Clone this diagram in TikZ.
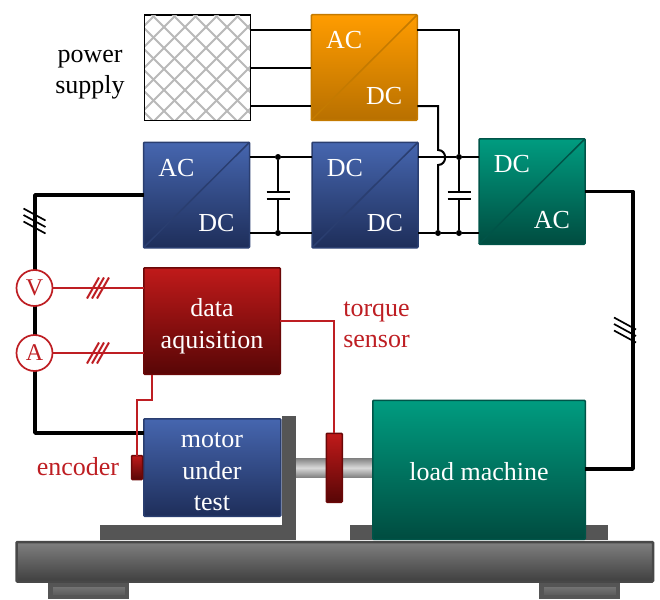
\documentclass[tikz,border=0pt]{standalone}
\usepackage{fontspec}
\setmainfont{Liberation Serif}
\usepackage{tikz}
\usetikzlibrary{positioning}
\definecolor{bluetop}{RGB}{70,102,175}
\definecolor{bluebot}{RGB}{30,46,90}
\definecolor{blueedge}{RGB}{42,62,112}
\definecolor{orangetop}{RGB}{255,156,0}
\definecolor{orangebot}{RGB}{184,112,0}
\definecolor{orangeedge}{RGB}{196,122,0}
\definecolor{greentop}{RGB}{0,156,128}
\definecolor{greenbot}{RGB}{0,76,64}
\definecolor{greenedge}{RGB}{0,84,72}
\definecolor{redtop}{RGB}{192,26,26}
\definecolor{redbot}{RGB}{88,6,6}
\definecolor{rededge}{RGB}{106,8,8}
\definecolor{sigred}{RGB}{190,30,35}
\definecolor{steel}{RGB}{85,85,85}
\begin{document}
\begin{tikzpicture}[x=1pt,y=-1pt,
    box/.style={rectangle,draw,line width=1.5pt,rounded corners=1pt,inner sep=0pt,outer sep=0pt},
    bluebox/.style={box,draw=blueedge,top color=bluetop,bottom color=bluebot},
    orangebox/.style={box,draw=orangeedge,top color=orangetop,bottom color=orangebot},
    greenbox/.style={box,draw=greenedge,top color=greentop,bottom color=greenbot},
    redbox/.style={box,draw=rededge,top color=redtop,bottom color=redbot},
    conv/.style={minimum width=106pt,minimum height=105.5pt},
    convtext/.style={text=white,inner sep=0pt,align=center,font=\fontsize{26}{31.5}\selectfont},
    steelbar/.style={rectangle,fill=steel,inner sep=0pt,outer sep=0pt},
    foot/.style={rectangle,draw=steel,line width=4.5pt,top color=gray!95!black,bottom color=steel,inner sep=0pt,minimum width=76.5pt,minimum height=12pt},
    wire/.style={line width=2pt,black},
    power wire/.style={line width=3.5pt,black,line join=round},
    signal wire/.style={line width=2pt,sigred},
    meter/.style={circle,draw=sigred,fill=white,line width=1.7pt,inner sep=0pt,minimum size=36pt,text=sigred,font=\fontsize{24}{30}\selectfont},
    dot/.style={circle,fill=black,inner sep=0pt,minimum size=6pt},
    redtext/.style={text=sigred,align=center,inner sep=0pt,font=\fontsize{26}{31.5}\selectfont}]

      \useasboundingbox (0,0) rectangle (660,599);

      \node [draw,line width=1pt,fill=white,inner sep=0pt,minimum width=105.5pt,minimum height=105pt] (supply) at (197.25,67.75) {};
      \begin{scope}
        \clip (supply.south west) rectangle (supply.north east);
        \foreach \k in {-6, ..., 6} {
          \draw[line width=1.8pt, gray!55] ({185+21*\k-130},{90-130}) -- ({185+21*\k+130},{90+130});
          \draw[line width=1.8pt, gray!55] ({185+21*\k-130},{90+130}) -- ({185+21*\k+130},{90-130});
        }
      \end{scope}
      \draw[line width=1pt] (supply.south west) rectangle (supply.north east);
      \node [align=center,inner sep=0pt,font=\fontsize{26}{31}\selectfont] (supplytext) at (90,74.5) {power\\supply};

      % converters
      \foreach \n/\cx/\cy/\sty/\edge/\ta/\tb in {orange/364.25/67.5/orangebox/orangeedge/AC/DC, acdc/196.5/195/bluebox/blueedge/AC/DC, dcdc/365/195/bluebox/blueedge/DC/DC, dcac/532/191.5/greenbox/greenedge/DC/AC} {
        \node [\sty, conv] (\n) at (\cx,\cy) {};
        \draw[line width=1.5pt, \edge] (\n.south west) -- (\n.north east);
        \node [convtext] (\n a) at ([shift={(-20,-27)}]\n.center) {\ta};
        \node [convtext] (\n b) at ([shift={(20,28.5)}]\n.center) {\tb};
      }

      \foreach \y in {30, 68, 106}
        \draw[wire] (supply.east |- 0,\y) -- (orange.west |- 0,\y);

      \node [dot] (dota) at (278,157) {};
      \node [dot] (dotb) at (278,233) {};
      \node [dot] (dotc) at (459,157) {};
      \node [dot] (dotd) at (459,233) {};
      \node [dot] (dote) at (438,233) {};

      \draw[wire] (acdc.east |- dota) -- (dota) -- (dcdc.west |- dota);
      \draw[wire] (acdc.east |- dotb) -- (dotb) -- (dcdc.west |- dotb);
      \draw[wire] (dcdc.east |- dotc) -- (dotc) -- (dcac.west |- dotc);
      \draw[wire] (dcdc.east |- dotd) -- (dote) -- (dotd) -- (dcac.west |- dotd);
      \draw[wire] (orange.east |- 0,30) -| (dotc);
      \draw[wire] (orange.east |- 0,106) -| (438,150) .. controls (447.5,150) and (447.5,165) .. (438,165) -- (dote);

      % capacitors
      \foreach \n/\x/\t/\b in {capa/278/dota/dotb, capb/459/dotc/dotd} {
        \coordinate (\n t) at (\x,191.5);
        \coordinate (\n b) at (\x,198.5);
        \draw[wire] (\t) -- (\n t);
        \draw[wire] (\n b) -- (\b);
        \draw[wire] ([xshift=-11.5pt]\n t) -- ([xshift=11.5pt]\n t);
        \draw[wire] ([xshift=-11.5pt]\n b) -- ([xshift=11.5pt]\n b);
      }

      % machine bed
      \node [foot] (footl) at (88.5,591) {};
      \node [foot] (footr) at (579.5,591) {};
      \node [steelbar,minimum width=196pt,minimum height=15pt] (brackh) at (198,532.75) {};
      \node [steelbar,minimum width=14.5pt,minimum height=124pt] (brackv) at (288.75,478) {};
      \node [steelbar,minimum width=258pt,minimum height=15pt] (pedestal) at (479,532.75) {};
      \node [rectangle,draw=steel!85!black,line width=2.5pt,rounded corners=1pt,top color=gray,bottom color=steel!75!black,inner sep=0pt,minimum width=636.5pt,minimum height=39.5pt] (bed) at (334.75,561.75) {};
      \node [rectangle,top color=gray,bottom color=gray,middle color=gray!30,inner sep=0pt,minimum width=76pt,minimum height=19.5pt] (shaft) at (334,467.75) {};

      \node [greenbox,minimum width=212.5pt,minimum height=139pt] (load) at (479,469.75) {};
      \node [bluebox,minimum width=137pt,minimum height=97.5pt] (motor) at (212.25,467.5) {};
      \node [redbox,minimum width=136.5pt,minimum height=106.5pt] (daq) at (212,321) {};
      \node [redbox,minimum width=11pt,minimum height=24pt] (encoder) at (137,467.5) {};
      \node [redbox,minimum width=16pt,minimum height=69pt] (torque) at (334.25,467.75) {};

      \node [convtext] (loadtext) at (479,471.5) {load machine};
      \node [convtext] (motortext) at (212,472) {motor\\under\\test};
      \node [convtext] (daqtext) at (212,326) {data\\aquisition};

      % three phase lines
      \draw[power wire] (acdc.west) -- (35,195) -- (35,433) -- (motor.west |- 0,433);
      \draw[power wire] (dcac.east) -- (633,191.5) -- (633,469) -- (load.east |- 0,469);
      \coordinate (tickl) at (34.5,221);
      \coordinate (tickr) at (625,330);
      \foreach \d in {-6.5, 0, 6.5} {
        \draw[line width=1.7pt] ([shift={(-11,\d-6)}]tickl) -- ([shift={(11,\d+6)}]tickl);
        \draw[line width=1.7pt] ([shift={(-11,\d-6)}]tickr) -- ([shift={(11,\d+6)}]tickr);
      }

      \node [meter] (volt) at (34.5,288) {V};
      \node [meter] (amp) at (34.5,353) {A};

      \draw[signal wire] (volt) -- (daq.west |- volt);
      \draw[signal wire] (amp) -- (daq.west |- amp);
      \foreach \d in {-5, 0, 5} {
        \draw[signal wire] ([shift={(\d-6,10.5)}]98,288) -- ([shift={(\d+6,-10.5)}]98,288);
        \draw[signal wire] ([shift={(\d-6,10.5)}]98,353) -- ([shift={(\d+6,-10.5)}]98,353);
      }

      \draw[signal wire] (152,375) |- (137,399.5) -- (encoder.north);
      \draw[signal wire] (daq.east) -- (torque.north |- daq.east) -- (torque.north);

      \node [redtext] (encodertext) at (78,467) {encoder};
      \node [redtext] (torquetext) at (376.5,325) {torque\\sensor};

\end{tikzpicture}
\end{document}
